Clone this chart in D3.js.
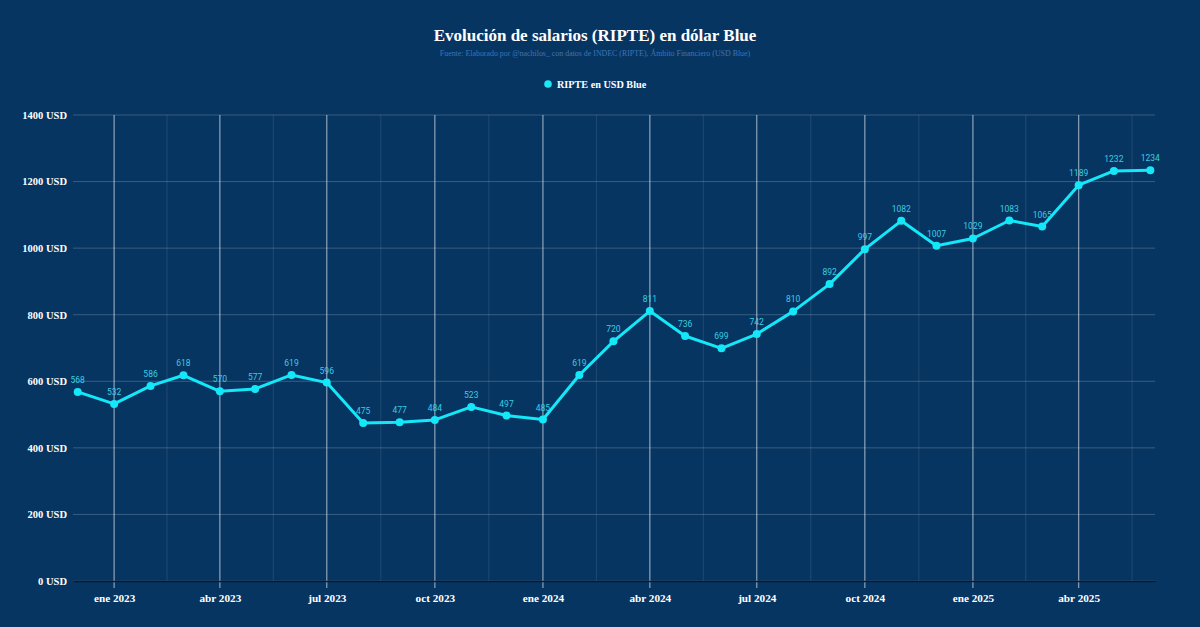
<!DOCTYPE html>
<html>
<head>
<meta charset="utf-8">
<script src="https://cdn.jsdelivr.net/npm/d3@7"></script>
<style>
  html, body { margin: 0; padding: 0; background: #073562; }
  svg { display: block; }
</style>
</head>
<body>
<svg id="chart" width="1200" height="627"></svg>
<script>
const months = ["2022-12","2023-01","2023-02","2023-03","2023-04","2023-05","2023-06","2023-07","2023-08","2023-09","2023-10","2023-11","2023-12","2024-01","2024-02","2024-03","2024-04","2024-05","2024-06","2024-07","2024-08","2024-09","2024-10","2024-11","2024-12","2025-01","2025-02","2025-03","2025-04","2025-05","2025-06"];
const ripteUSD = [568,532,586,618,570,577,619,596,475,477,484,523,497,485,619,720,811,736,699,742,810,892,997,1082,1007,1029,1083,1065,1189,1232,1234];
const monthNames = ["ene","feb","mar","abr","may","jun","jul","ago","sep","oct","nov","dic"];
const yTicks = [0,200,400,600,800,1000,1200,1400];

const title = "Evolución de salarios (RIPTE) en dólar Blue";
const subtitle = "Fuente: Elaborado por @nachilos_ con datos de INDEC (RIPTE), Ámbito Financiero (USD Blue)";
const seriesName = "RIPTE en USD Blue";

const parse = d3.timeParse("%Y-%m");
const data = months.map((m, i) => ({ date: parse(m), value: ripteUSD[i] }));

const svg = d3.select("#chart");
const W = 1200, H = 627;
const m = { left: 73, right: 45, top: 115, bottom: 46 };

const x = d3.scaleTime()
  .domain([d3.timeDay.offset(data[0].date, -4), d3.timeDay.offset(data[data.length-1].date, 4)])
  .range([m.left, W - m.right]);
const y = d3.scaleLinear().domain([0, 1400]).range([H - m.bottom, m.top]);

const serif = "'Liberation Serif', 'DejaVu Serif', serif";

// Title
svg.append("text").attr("x", 595).attr("y", 41).attr("text-anchor", "middle")
  .attr("font-family", serif).attr("font-weight", "bold").attr("font-size", 17)
  .attr("fill", "#ffffff").text(title);
svg.append("text").attr("x", 595).attr("y", 56).attr("text-anchor", "middle")
  .attr("font-family", serif).attr("font-size", 7.9)
  .attr("fill", "#3f74b0").text(subtitle);

// Legend
const lg = svg.append("g");
lg.append("circle").attr("cx", 548).attr("cy", 84).attr("r", 3.8).attr("fill", "#1fe6f5");
lg.append("text").attr("x", 557).attr("y", 87.5).attr("font-family", serif).attr("font-weight", "bold")
  .attr("font-size", 10.2).attr("fill", "#ffffff").text(seriesName);

// Horizontal grid
svg.append("g").selectAll("line").data(yTicks).join("line")
  .attr("x1", m.left).attr("x2", W - m.right)
  .attr("y1", d => y(d)).attr("y2", d => y(d))
  .attr("stroke", "rgba(255,255,255,0.2)").attr("stroke-width", 1);

// Quarter ticks
const quarters = d3.timeMonth.every(3).range(d3.timeMonth.offset(x.domain()[0], -3), d3.timeMonth.offset(x.domain()[1], 3));
const inDomain = d => d >= x.domain()[0] && d <= x.domain()[1];
const majorTicks = quarters.filter(inDomain);
// Minor split lines: midpoints between quarter ticks
const minorX = d3.pairs(quarters).map(([a, b]) => (x(a) + x(b)) / 2).filter(v => v >= m.left && v <= W - m.right);

svg.append("g").selectAll("line").data(minorX).join("line")
  .attr("x1", d => d).attr("x2", d => d)
  .attr("y1", m.top).attr("y2", H - m.bottom)
  .attr("stroke", "rgba(255,255,255,0.1)").attr("stroke-width", 1);

svg.append("g").selectAll("line").data(majorTicks).join("line")
  .attr("x1", d => x(d)).attr("x2", d => x(d))
  .attr("y1", m.top).attr("y2", H - m.bottom + 7)
  .attr("stroke", "rgba(255,255,255,0.5)").attr("stroke-width", 1.3);

// Y axis labels
const yAxis = d3.axisLeft(y).tickValues(yTicks).tickSize(0).tickPadding(6).tickFormat(d => d + " USD");
const yg = svg.append("g").attr("transform", `translate(${m.left},0)`).call(yAxis);
yg.select(".domain").remove();
yg.selectAll("text").attr("font-family", serif).attr("font-weight", "bold").attr("font-size", 10.5).attr("fill", "#ffffff");

// X axis
const xAxis = d3.axisBottom(x).tickValues(majorTicks).tickSize(0).tickPadding(13)
  .tickFormat(d => monthNames[d.getMonth()] + " " + d.getFullYear());
const xg = svg.append("g").attr("transform", `translate(0,${H - m.bottom})`).call(xAxis);
xg.select(".domain").attr("stroke", "#051a33").attr("stroke-width", 1.5);
xg.selectAll("text").attr("font-family", serif).attr("font-weight", "bold").attr("font-size", 11.2).attr("fill", "#ffffff");

// Line
const line = d3.line().x(d => x(d.date)).y(d => y(d.value));
svg.append("path").datum(data).attr("d", line)
  .attr("fill", "none").attr("stroke", "#14e8f8").attr("stroke-width", 3).attr("stroke-linejoin", "round");

svg.append("g").selectAll("circle").data(data).join("circle")
  .attr("cx", d => x(d.date)).attr("cy", d => y(d.value)).attr("r", 4)
  .attr("fill", "#14e8f8");

svg.append("g").selectAll("text").data(data).join("text")
  .attr("x", d => x(d.date)).attr("y", d => y(d.value) - 9)
  .attr("text-anchor", "middle")
  .attr("font-family", "Roboto, 'Noto Sans', sans-serif").attr("font-size", 8.5)
  .attr("fill", "#38cde2").text(d => d.value);
</script>
</body>
</html>
